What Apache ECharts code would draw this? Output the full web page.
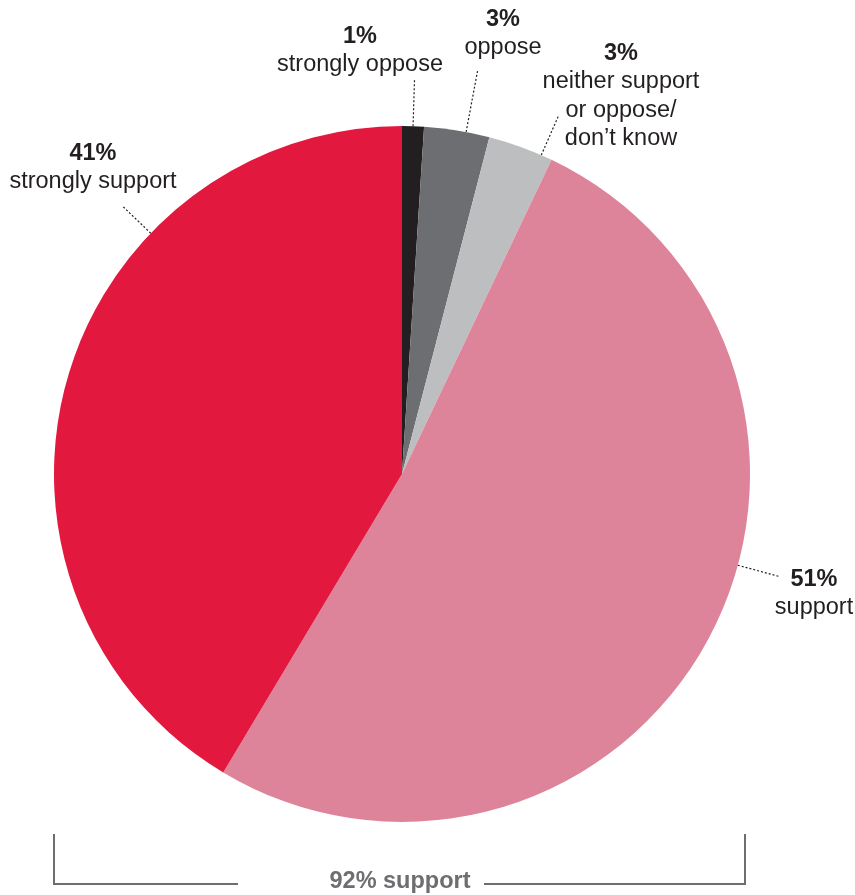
<!DOCTYPE html>
<html>
<head>
<meta charset="utf-8">
<title>Support breakdown</title>
<script src="https://cdn.jsdelivr.net/npm/echarts@6/dist/echarts.min.js"></script>
<style>
  html, body { margin: 0; padding: 0; background: #ffffff; }
  #chart { width: 855px; height: 895px; }
</style>
</head>
<body>
<div id="chart"></div>
<script>
// Survey answers, clockwise from 12 o'clock
const categories = ['strongly oppose', 'oppose', 'neither support\nor oppose/\ndon\u2019t know', 'support', 'strongly support'];
const shares = [1, 3, 3, 51, 41];
const sliceColors = ['#231f20', '#6d6e71', '#bcbec0', '#dd849a', '#e3183f'];

// Label block anchors (centre x, top y) and leader-line placement
const labelAnchors = [[360, 22], [503, 5], [621, 39], [814, 565], [93, 139]];
const leaderFraction = [0.5, 0.64, 0.83, 0.43, 0.69];
const leaderLength = [46, 64, 42, 43, 40];

const supportIdx = [3, 4];
const supportTotal = supportIdx.reduce((s, i) => s + shares[i], 0);

const FONT = '"Liberation Sans", Arial, Helvetica, sans-serif';
const INK = '#231f20';
const GREY = '#6d6e71';
const FS = 23.5;

const chart = echarts.init(document.getElementById('chart'), null, { renderer: 'canvas' });

const option = {
  animation: false,
  backgroundColor: '#ffffff',
  series: [{
    type: 'pie',
    center: [402, 474],
    radius: 348,
    startAngle: 90,
    clockwise: true,
    silent: true,
    avoidLabelOverlap: false,
    emphasis: { disabled: true },
    itemStyle: { borderWidth: 0 },
    data: categories.map((name, i) => ({
      name: name,
      value: shares[i],
      itemStyle: { color: sliceColors[i] }
    })),
    label: {
      show: true,
      position: 'inside',
      overflow: 'none',
      fontFamily: FONT,
      align: 'center',
      formatter: (p) => {
        const lines = p.name.split('\n').map(t => '{n|' + t + '}');
        return '{b|' + p.value + '%}\n' + lines.join('\n');
      },
      rich: {
        b: { fontFamily: FONT, fontSize: FS, fontWeight: 'bold', color: INK, lineHeight: 28.5, align: 'center' },
        n: { fontFamily: FONT, fontSize: FS, color: INK, lineHeight: 28.5, align: 'center' }
      }
    },
    labelLine: { show: false },
    labelLayout: (params) => {
      const a = labelAnchors[params.dataIndex];
      return { x: a[0], y: a[1], align: 'center', verticalAlign: 'top', hideOverlap: false };
    }
  }]
};

chart.setOption(option);

// Dotted radial leader lines, placed from the pie's computed slice layout
const data = chart.getModel().getSeriesByIndex(0).getData();
const leaders = shares.map((v, i) => {
  const L = data.getItemLayout(i);
  const ang = L.startAngle + leaderFraction[i] * (L.endAngle - L.startAngle);
  const c = Math.cos(ang), s = Math.sin(ang);
  return {
    type: 'line',
    silent: true,
    shape: {
      x1: L.cx + L.r * c, y1: L.cy + L.r * s,
      x2: L.cx + (L.r + leaderLength[i]) * c, y2: L.cy + (L.r + leaderLength[i]) * s
    },
    style: { stroke: INK, lineWidth: 1.2, lineDash: [2, 2] },
    z: 10
  };
});

// Bracket spanning the two support slices
const bracket = [
  { type: 'polyline', silent: true, shape: { points: [[54, 834], [54, 884], [238, 884]] },
    style: { stroke: GREY, lineWidth: 2, fill: null } },
  { type: 'polyline', silent: true, shape: { points: [[484, 884], [745, 884], [745, 834]] },
    style: { stroke: GREY, lineWidth: 2, fill: null } },
  { type: 'text', silent: true, x: 400, y: 882,
    style: { text: supportTotal + '% support', fontFamily: FONT, fontSize: FS, fontWeight: 'bold',
             fill: GREY, align: 'center', verticalAlign: 'middle' } }
];

chart.setOption({ graphic: { elements: leaders.concat(bracket) } });
</script>
</body>
</html>
